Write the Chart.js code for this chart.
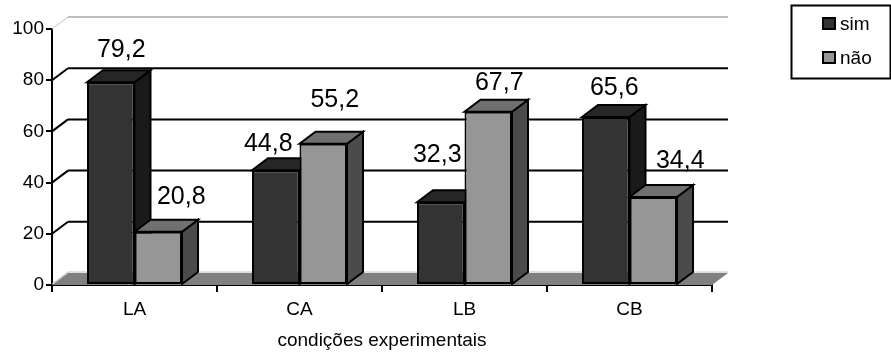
<!DOCTYPE html>
<html>
<head>
<meta charset="utf-8">
<style>html,body{margin:0;padding:0;background:#fff}#w{width:891px;height:353px;position:relative}</style>
<script src="https://cdn.jsdelivr.net/npm/chart.js@4/dist/chart.umd.min.js"></script>
</head>
<body>
<div id="w"><canvas id="c" width="891" height="353"></canvas></div>
<script>
const categories = ['LA', 'CA', 'LB', 'CB'];
const simValues = [79.2, 44.8, 32.3, 65.6];
const naoValues = [20.8, 55.2, 67.7, 34.4];
const yTicks = [0, 20, 40, 60, 80, 100];
const axisTitle = 'condições experimentais';

const DX = 16, DY = -12;
const FONT = '"Liberation Sans", Arial, sans-serif';
const simNudges = [[10.5, -25], [-7.5, -19], [-3.5, -40], [8.5, -22]];
const naoNudges = [[23, -28], [11.5, -37], [11, -22], [27, -29]];
const styles = [
  {front: '#333333', top: '#262626', side: '#1a1a1a', nudges: simNudges},
  {front: '#969696', top: '#707070', side: '#4b4b4b', nudges: naoNudges}
];

function poly(ctx, pts, fill, stroke, lw) {
  ctx.beginPath();
  pts.forEach((p, i) => i ? ctx.lineTo(p[0], p[1]) : ctx.moveTo(p[0], p[1]));
  ctx.closePath();
  if (fill) { ctx.fillStyle = fill; ctx.fill(); }
  if (stroke) { ctx.strokeStyle = stroke; ctx.lineWidth = lw; ctx.lineJoin = 'miter'; ctx.stroke(); }
}
function seg(ctx, x1, y1, x2, y2, color, lw) {
  ctx.beginPath(); ctx.moveTo(x1, y1); ctx.lineTo(x2, y2);
  ctx.strokeStyle = color; ctx.lineWidth = lw; ctx.stroke();
}

const threeD = {
  id: 'threeD',
  beforeDatasetsDraw(chart) {
    const {ctx, chartArea: a, scales: {y}} = chart;
    ctx.save();
    const y0 = y.getPixelForValue(0);
    poly(ctx, [[a.left, y0], [a.left + DX, y0 + DY], [a.right + DX, y0 + DY], [a.right, y0]], '#808080');
    seg(ctx, a.left + DX, y0 + DY - 1, a.right + DX, y0 + DY - 1, '#c0c0c0', 1);
    seg(ctx, a.left, y0 - 1, a.left + DX, y0 + DY - 1, '#c0c0c0', 1);
    yTicks.slice(1).forEach(v => {
      const py = y.getPixelForValue(v);
      const c = v === 100 ? '#c0c0c0' : '#000';
      seg(ctx, a.left, py, a.left + DX, py + DY, c, v === 100 ? 1 : 2);
      seg(ctx, a.left + DX, py + DY, a.right + DX, py + DY, c, 2);
    });
    // left bars are painted first, right bars over them, as in the 3-D original
    chart.data.datasets.forEach((ds, i) => {
      const meta = chart.getDatasetMeta(i);
      meta.data.forEach(el => {
        const p = el.getProps(['x', 'y', 'base', 'width'], true);
        const l = p.x - p.width / 2, r = p.x + p.width / 2;
        poly(ctx, [[r, p.y], [r + DX, p.y + DY], [r + DX, p.base + DY], [r, p.base]], styles[i].side, '#000', 2);
        poly(ctx, [[l, p.y], [l + DX, p.y + DY], [r + DX, p.y + DY], [r, p.y]], styles[i].top, '#000', 2);
      });
      meta.controller.draw();
    });
    ctx.restore();
    return false;
  },
  afterDraw(chart) {
    const {ctx} = chart;
    ctx.save();
    ctx.fillStyle = '#000';
    ctx.textAlign = 'center';
    ctx.textBaseline = 'alphabetic';
    ctx.font = '25px ' + FONT;
    chart.data.datasets.forEach((ds, i) => {
      chart.getDatasetMeta(i).data.forEach((el, j) => {
        const n = styles[i].nudges[j];
        ctx.fillText(String(ds.data[j]).replace('.', ','), el.x + n[0], el.y + n[1]);
      });
    });
    // legend
    ctx.strokeStyle = '#000'; ctx.lineWidth = 2;
    ctx.strokeRect(791.5, 5.5, 99, 73);
    ctx.textAlign = 'left';
    ctx.textBaseline = 'alphabetic';
    ctx.font = '19px ' + FONT;
    chart.data.datasets.forEach((ds, i) => {
      const cy = 23 + i * 34;
      ctx.fillStyle = styles[i].front;
      ctx.strokeStyle = '#000'; ctx.lineWidth = 2;
      ctx.fillRect(823, cy - 5, 12, 11);
      ctx.strokeRect(823, cy - 5, 12, 11);
      ctx.fillStyle = '#000';
      ctx.fillText(ds.label, 840, cy + 7);
    });
    // axis title
    ctx.textAlign = 'center';
    ctx.font = '19px ' + FONT;
    ctx.fillText(axisTitle, 382, 346);
    ctx.restore();
  }
};

new Chart(document.getElementById('c'), {
  type: 'bar',
  data: {
    labels: categories,
    datasets: [
      {label: 'sim', data: simValues, backgroundColor: styles[0].front, borderColor: '#000', borderWidth: 2, borderSkipped: false},
      {label: 'não', data: naoValues, backgroundColor: styles[1].front, borderColor: '#000', borderWidth: 2, borderSkipped: false}
    ]
  },
  plugins: [threeD],
  options: {
    responsive: false,
    animation: false,
    layout: {padding: {left: 0, top: 29, right: 179, bottom: 0}},
    plugins: {legend: {display: false}, tooltip: {enabled: false}},
    datasets: {bar: {categoryPercentage: 0.576, barPercentage: 1}},
    scales: {
      x: {
        afterFit(s) { s.height = 68; },
        grid: {display: true, drawOnChartArea: false, drawTicks: true, tickLength: 7, color: '#000', lineWidth: 2},
        border: {color: '#000', width: 2},
        ticks: {color: '#000', font: {family: FONT, size: 19}, padding: 6, maxRotation: 0}
      },
      y: {
        min: 0, max: 100,
        afterFit(s) { s.width = 52; },
        afterBuildTicks(s) { s.ticks = yTicks.map(value => ({value})); },
        grid: {display: true, drawOnChartArea: false, drawTicks: true, tickLength: 6, color: '#000', lineWidth: 2},
        border: {color: '#000', width: 2},
        ticks: {color: '#000', font: {family: FONT, size: 19}, padding: 2}
      }
    }
  }
});
</script>
</body>
</html>
